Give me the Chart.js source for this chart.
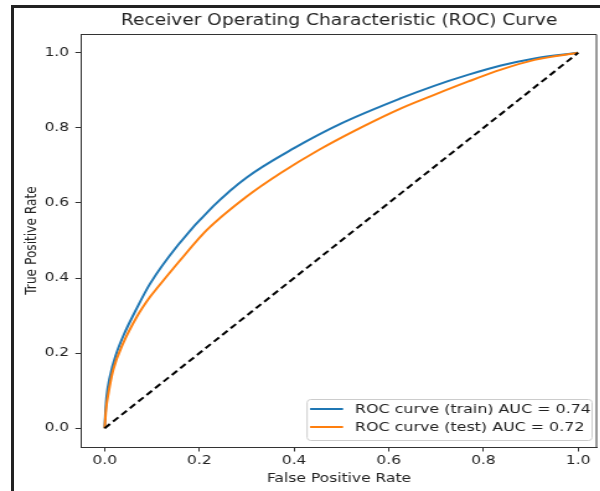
<!DOCTYPE html>
<html>
<head>
<meta charset="utf-8">
<title>ROC Curve</title>
<script src="https://cdn.jsdelivr.net/npm/chart.js@4.4.1/dist/chart.umd.min.js"></script>
<style>
  html, body { margin: 0; padding: 0; background: #fff; }
  #wrap { position: relative; width: 600px; height: 491px; overflow: hidden; }
  /* dark frame around the original figure */
  #frame { position: absolute; left: 11px; top: 5px; right: -10px; bottom: -10px;
           border-left: 3px solid #222; border-top: 3px solid #222; }
  /* the source picture is stretched sideways, so the chart is too */
  #stretch { position: absolute; left: 0; top: 0; transform: scaleX(1.24); transform-origin: 0 0; }
</style>
</head>
<body>
<div id="wrap">
  <div id="frame"></div>
  <div id="stretch"><canvas id="roc" width="484" height="491"></canvas></div>
</div>
<script>
// ==================================================
// DATA
// ==================================================
const chartTitle = "Receiver Operating Characteristic (ROC) Curve";
const xTitle = "False Positive Rate";
const yTitle = "True Positive Rate";

const trainLabel = "ROC curve (train) AUC = 0.74";
const trainFpr = [0, 0.002, 0.004, 0.011, 0.025, 0.039, 0.068, 0.096, 0.155, 0.23, 0.30, 0.40, 0.50, 0.626, 0.696, 0.767, 0.837, 0.908, 1.0];
const trainTpr = [0, 0.05, 0.083, 0.137, 0.20, 0.245, 0.32, 0.385, 0.488, 0.592, 0.668, 0.746, 0.812, 0.879, 0.912, 0.941, 0.966, 0.985, 1.0];

const testLabel = "ROC curve (test) AUC = 0.72";
const testFpr = [0, 0.003, 0.008, 0.018, 0.039, 0.068, 0.096, 0.11, 0.16, 0.216, 0.30, 0.371, 0.452, 0.54, 0.626, 0.696, 0.767, 0.837, 0.908, 1.0];
const testTpr = [0, 0.05, 0.093, 0.155, 0.226, 0.297, 0.35, 0.372, 0.448, 0.528, 0.617, 0.679, 0.741, 0.80, 0.852, 0.888, 0.923, 0.955, 0.981, 1.0];

const diagX = [0, 1];
const diagY = [0, 1];

const xTicks = [0, 0.2, 0.4, 0.6, 0.8, 1.0];
const yTicks = [0, 0.2, 0.4, 0.6, 0.8, 1.0];

// ==================================================
// HELPERS
// ==================================================
const FONT = "'DejaVu Sans', 'Liberation Sans', sans-serif";
const TEXT = "#222";
const SPINE = "#333";

const toPoints = (xs, ys) => xs.map((x, i) => ({ x: x, y: ys[i] }));

// title centred over the plot area (not the whole canvas)
const titlePlugin = {
  id: "axesTitle",
  afterDraw(chart) {
    const { ctx, chartArea } = chart;
    ctx.save();
    ctx.font = "15px " + FONT;
    ctx.fillStyle = TEXT;
    ctx.textAlign = "center";
    ctx.textBaseline = "middle";
    ctx.fillText(chartTitle, (chartArea.left + chartArea.right) / 2, 21);
    ctx.restore();
  },
};

// top + right spines (x/y borders only give bottom + left)
const framePlugin = {
  id: "frame",
  afterDatasetsDraw(chart) {
    const { ctx, chartArea } = chart;
    ctx.save();
    ctx.strokeStyle = SPINE;
    ctx.lineWidth = 1;
    ctx.beginPath();
    ctx.moveTo(chartArea.left, Math.round(chartArea.top) + 0.5);
    ctx.lineTo(chartArea.right - 0.5, Math.round(chartArea.top) + 0.5);
    ctx.lineTo(chartArea.right - 0.5, chartArea.bottom);
    ctx.stroke();
    ctx.restore();
  },
};

// legend box in lower right corner, inside the plot
const legendPlugin = {
  id: "rocLegend",
  afterDatasetsDraw(chart) {
    const { ctx, chartArea } = chart;
    const items = chart.data.datasets.filter((d) => d.label);
    ctx.save();
    ctx.font = "12.8px " + FONT;
    const textW = Math.max(...items.map((d) => ctx.measureText(d.label).width));
    const rowH = 18;
    const w = 2.4 + 26.6 + 9.7 + textW + 1;
    const h = items.length * rowH + 5;
    const x = chartArea.right - 4 - w;
    const y = Math.round(chartArea.bottom - 7 - h);

    ctx.beginPath();
    ctx.roundRect(x, y + 0.5, w, h, 3);
    ctx.fillStyle = "rgba(255,255,255,0.8)";
    ctx.fill();
    ctx.strokeStyle = "#cccccc";
    ctx.lineWidth = 1;
    ctx.stroke();

    items.forEach((d, i) => {
      const cy = y + 10 + i * rowH;
      ctx.beginPath();
      ctx.moveTo(x + 2.4, cy);
      ctx.lineTo(x + 29, cy);
      ctx.strokeStyle = d.borderColor;
      ctx.lineWidth = 2;
      ctx.stroke();
      ctx.fillStyle = TEXT;
      ctx.textBaseline = "middle";
      ctx.textAlign = "left";
      ctx.fillText(d.label, x + 38.7, cy + 1);
    });
    ctx.restore();
  },
};

// ==================================================
// CHART
// ==================================================
const ctx = document.getElementById("roc").getContext("2d");

new Chart(ctx, {
  type: "scatter",
  data: {
    datasets: [
      {
        label: trainLabel,
        data: toPoints(trainFpr, trainTpr),
        showLine: true,
        borderColor: "#1f77b4",
        borderWidth: 2,
        pointRadius: 0,
        cubicInterpolationMode: "monotone",
        order: 3,
      },
      {
        label: testLabel,
        data: toPoints(testFpr, testTpr),
        showLine: true,
        borderColor: "#ff7f0e",
        borderWidth: 2,
        pointRadius: 0,
        cubicInterpolationMode: "monotone",
        order: 2,
      },
      {
        data: toPoints(diagX, diagY),
        showLine: true,
        borderColor: "#000000",
        borderWidth: 2,
        borderDash: [6, 3.5],
        pointRadius: 0,
        order: 1,
      },
    ],
  },
  options: {
    responsive: false,
    animation: false,
    layout: { padding: { left: 0, right: 2.5, top: 34, bottom: 0 } },
    plugins: {
      legend: { display: false },
      tooltip: { enabled: false },
      title: { display: false },
    },
    scales: {
      x: {
        type: "linear",
        min: -0.05,
        max: 1.04,
        afterBuildTicks: (scale) => {
          scale.ticks = xTicks.map((v) => ({ value: v }));
        },
        afterFit: (scale) => {
          scale.height = 44;
        },
        ticks: {
          callback: (value) => Number(value).toFixed(1),
          color: TEXT,
          font: { family: FONT, size: 12.5 },
          padding: 1.5,
          maxRotation: 0,
          autoSkip: false,
        },
        grid: { drawOnChartArea: false, drawTicks: true, tickLength: 4.5, color: SPINE },
        border: { display: true, color: SPINE, width: 1 },
        title: {
          display: true,
          text: xTitle,
          color: TEXT,
          font: { family: FONT, size: 12.5 },
          padding: { top: 0, bottom: 5 },
        },
      },
      y: {
        type: "linear",
        min: -0.05,
        max: 1.05,
        afterBuildTicks: (scale) => {
          scale.ticks = yTicks.map((v) => ({ value: v }));
        },
        afterFit: (scale) => {
          scale.width = 65.3;
        },
        ticks: {
          callback: (value) => Number(value).toFixed(1),
          color: TEXT,
          font: { family: FONT, size: 12.5 },
          padding: 5,
          autoSkip: false,
        },
        grid: { drawOnChartArea: false, drawTicks: true, tickLength: 4.5, color: SPINE },
        border: { display: true, color: SPINE, width: 1 },
        title: {
          display: true,
          text: yTitle,
          color: TEXT,
          font: { family: FONT, size: 12.2 },
          padding: { top: 18.5, bottom: 0 },
        },
      },
    },
  },
  plugins: [framePlugin, legendPlugin, titlePlugin],
});
</script>
</body>
</html>
